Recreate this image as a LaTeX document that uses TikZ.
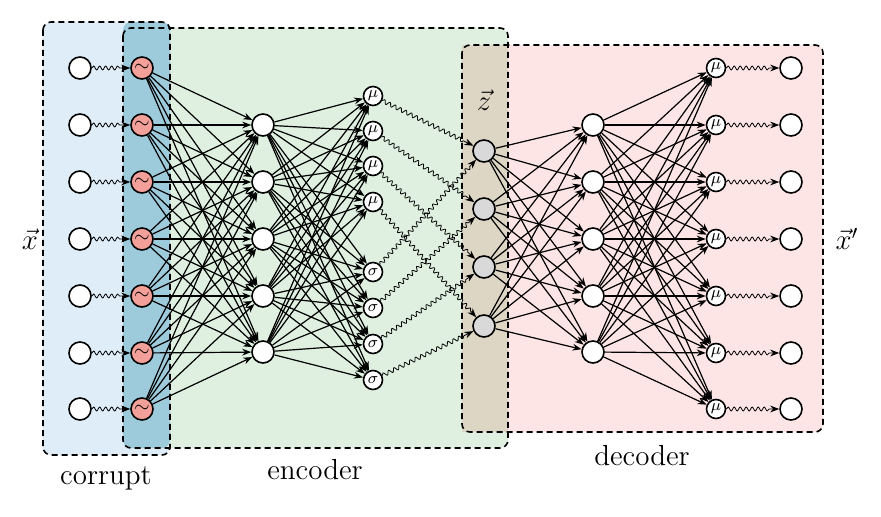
\documentclass[tikz,border=0pt]{standalone}
\usetikzlibrary{arrows.meta,decorations.pathmorphing}
\definecolor{corruptblue}{HTML}{DFEDF8}
\definecolor{overlapblue}{HTML}{9DCBDC}
\definecolor{encgreen}{HTML}{DFF0E0}
\definecolor{decred}{HTML}{FDE5E5}
\definecolor{overlaptan}{HTML}{DDD6C5}
\definecolor{noisered}{HTML}{F4A09A}
\begin{document}
\begin{tikzpicture}[x=0.5pt, y=-0.5pt, line join=round, >={Stealth[length=4.5pt]},
    unit/.style={circle, draw, thick, fill=white, minimum size=11pt, inner sep=0pt},
    small/.style={circle, draw, thick, fill=white, minimum size=9.5pt, inner sep=0pt, font=\footnotesize},
    noisy/.style={unit, fill=noisered},
    latent/.style={unit, fill=black!15},
    box/.style={draw, thick, dash pattern=on 3pt off 2pt, rounded corners=4pt},
    wavy/.style={->, decorate, decoration={snake, amplitude=1pt, segment length=3pt, post length=4pt}},
    conn/.style={->, semithick},
    lab/.style={font=\fontsize{14.5}{16}\selectfont}]
    \useasboundingbox (0,0) rectangle (881,517);
    % regions
    \fill[corruptblue, rounded corners=4pt] (43,22) rectangle (170,455);
    \fill[encgreen, rounded corners=4pt] (123,28) rectangle (508,448);
    \fill[decred, rounded corners=4pt] (462,45) rectangle (823,432);
    \fill[overlapblue, rounded corners=4pt] (123,22) rectangle (170,448);
    \fill[overlaptan] (462,45) rectangle (508,432);
    \draw[box] (43,22) rectangle (170,455);
    \draw[box] (123,28) rectangle (508,448);
    \draw[box] (462,45) rectangle (823,432);
    % layers
    \foreach \i/\y in {1/68,2/125,3/182,4/239,5/296,6/353,7/409} {
        \node[unit] (in\i) at (80,\y) {};
        \node[noisy] (c\i) at (142,\y) {$\sim$};
        \node[small] (om\i) at (716,\y) {$\mu$};
        \node[unit] (out\i) at (791,\y) {};
    }
    \foreach \i/\y in {1/125,2/182,3/239,4/296,5/352} {
        \node[unit] (h\i) at (263,\y) {};
        \node[unit] (d\i) at (593,\y) {};
    }
    \foreach \i/\ym/\ys in {1/96/272,2/131/308,3/166/344,4/202/380} {
        \node[small] (m\i) at (373,\ym) {$\mu$};
        \node[small] (s\i) at (373,\ys) {$\sigma$};
    }
    \foreach \i/\y in {1/151,2/209,3/267,4/326}
        \node[latent] (z\i) at (484,\y) {};
    % connections
    \foreach \i in {1,...,7} {
        \draw[wavy] (in\i) -- (c\i);
        \draw[wavy] (om\i) -- (out\i);
        \foreach \j in {1,...,5} {
            \draw[conn] (c\i) -- (h\j);
            \draw[conn] (d\j) -- (om\i);
        }
    }
    \foreach \j in {1,...,5}
        \foreach \k in {1,...,4} {
            \draw[conn] (h\j) -- (m\k);
            \draw[conn] (h\j) -- (s\k);
            \draw[conn] (z\k) -- (d\j);
        }
    \foreach \k in {1,...,4} {
        \draw[wavy] (m\k) -- (z\k);
        \draw[wavy] (s\k) -- (z\k);
    }
    % labels
    \node[lab] (xlab) at (30,239) {$\vec{x}$};
    \node[lab] (xplab) at (847,239) {$\vec{x}'$};
    \node[lab] (zlab) at (484,100) {$\vec{z}$};
    \node[lab] (corruptlab) at (106,478) {corrupt};
    \node[lab] (encoderlab) at (315,470) {encoder};
    \node[lab] (decoderlab) at (642,456) {decoder};
\end{tikzpicture}
\end{document}
